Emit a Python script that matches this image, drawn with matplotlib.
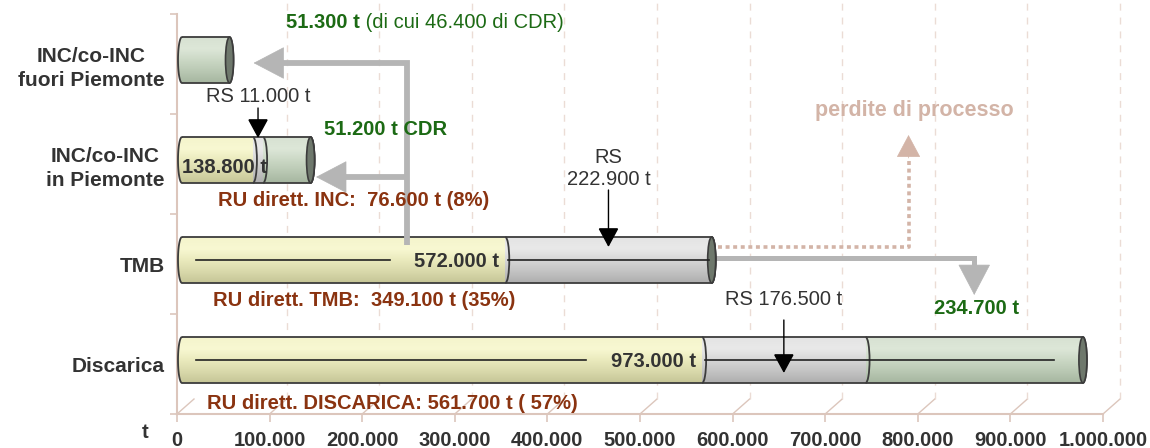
import matplotlib
matplotlib.use("Agg")
import matplotlib.pyplot as plt
import numpy as np
from matplotlib.colors import LinearSegmentedColormap
from matplotlib.patches import Ellipse, PathPatch, Arc
from matplotlib.path import Path

plt.rcParams['font.family'] = ['Liberation Sans', 'DejaVu Sans']

# data (t/anno)
categories = ["Discarica", "TMB", "INC/co-INC\nin Piemonte", "INC/co-INC\nfuori Piemonte"]
ru_diretti = [561700, 349100, 76600, 0]
rs = [176500, 222900, 11000, 0]
cdr = [234700, 0, 51200, 51300]
totals = [973000, 572000, 138800]
ru_pct = [57, 35, 8]
ru_names = ["DISCARICA", "TMB", "INC"]
cdr_fuori = 46400
xticks = np.arange(0, 1000001, 100000)

DARK = "#333333"
GREEN = "#1c6a14"
BROWN = "#8a3310"
PINK = "#d3b4a7"
GRAYARR = "#b5b5b5"
AXC = "#dcc6bc"
FS = 14.5

shades = {
    "ru": ["#c6c697", "#d9d9ab", "#eaeabd", "#f8f8d2", "#f4f4cc"],
    "rs": ["#aeaeae", "#c3c3c3", "#d6d6d6", "#e9e9e9", "#e4e4e4"],
    "cdr": ["#a6b6a0", "#b9c8b3", "#cbd8c5", "#dde7d8", "#d7e1d2"],
}


def fmt(v):
    return f"{v:,}".replace(",", ".")


W, H = 1150, 448
fig = plt.figure(figsize=(W / 100, H / 100), dpi=100)
ax = fig.add_axes([177 / W, 34 / H, 926 / W, 400 / H])

ux = 1000000 / 926   # data units per pixel
uy = 4 / 400
bar_h = 0.46
lift = 0.04          # 3D shift of the cylinders
X0 = 5 * ux          # 3D shift of the cylinders
e = 4 * ux           # half width of the elliptic ends
grad = np.linspace(0, 1, 80).reshape(-1, 1)


def cylinder(yc, parts):
    y0, y1 = yc - bar_h / 2, yc + bar_h / 2
    total = X0 + sum(v for v, k in parts)
    t = np.linspace(np.pi / 2, 3 * np.pi / 2, 30)
    left = np.column_stack([X0 + e * np.cos(t), yc + bar_h / 2 * np.sin(t)])
    t2 = np.linspace(-np.pi / 2, np.pi / 2, 30)
    right = np.column_stack([total + e * np.cos(t2), yc + bar_h / 2 * np.sin(t2)])
    verts = np.vstack([left, right, left[:1]])
    outline = PathPatch(Path(verts), fill=False, edgecolor="#3c3c3c", lw=1.3, zorder=4)
    ax.add_patch(outline)
    x = X0
    for i, (v, k) in enumerate(parts):
        cmap = LinearSegmentedColormap.from_list(k, shades[k])
        x_start = X0 - e if i == 0 else x
        im = ax.imshow(grad, cmap=cmap, extent=(x_start, x + v + e, y0, y1),
                       origin="lower", aspect="auto", zorder=2, interpolation="bilinear")
        im.set_clip_path(outline)
        x += v
        if x < total:
            ax.add_patch(Arc((x, yc), 2 * e, bar_h, theta1=-90, theta2=90,
                             color="#3c3c3c", lw=1.3, zorder=4))
    ax.add_patch(Ellipse((total, yc), 2 * e, bar_h, facecolor="#6e786c",
                         edgecolor="#3c3c3c", lw=1.2, zorder=4))


for i in range(4):
    parts = [(ru_diretti[i], "ru"), (rs[i], "rs"), (cdr[i], "cdr")]
    parts = [p for p in parts if p[0] > 0]
    cylinder(i + lift, parts)

# center lines of the bigger cylinders
for i in (0, 1):
    yc = i + lift
    end = X0 + ru_diretti[i] + rs[i] + cdr[i]
    ax.plot([X0 + 15000, X0 + ru_diretti[i] - 125000], [yc, yc], color="#222222", lw=1.2, zorder=5)
    ax.plot([X0 + ru_diretti[i] + 3000, end - 28000 * (i == 0) - 3000], [yc, yc],
            color="#222222", lw=1.2, zorder=5)
    ax.text(X0 + ru_diretti[i] - 7000, yc - 0.01, fmt(totals[i]) + " t", ha="right", va="center",
            fontsize=FS, fontweight="bold", color=DARK, zorder=6)

ax.text(X0, 2 - 0.03, fmt(totals[2]) + " t", ha="left", va="center",
        fontsize=FS, fontweight="bold", color=DARK, zorder=6)

# RU labels under the bars
ru_lab_x = [32000, 39000, 44000]
for i in range(3):
    sp = " " if i == 0 else "  "
    pc = f"( {ru_pct[i]}%)" if i == 0 else f"({ru_pct[i]}%)"
    ax.text(ru_lab_x[i], i - 0.39 + 0.03 * (i > 0), f"RU dirett. {ru_names[i]}:{sp}{fmt(ru_diretti[i])} t {pc}",
            ha="left", va="center", fontsize=FS, fontweight="bold", color=BROWN, zorder=6)


def arrow(p0, p1, color, lw, hl, hw, z=3):
    ax.annotate("", xy=p1, xytext=p0,
                arrowprops=dict(arrowstyle=f"-|>,head_length={hl},head_width={hw}",
                                color=color, lw=lw, shrinkA=0, shrinkB=0,
                                mutation_scale=1, joinstyle="miter"),
                zorder=z)


# RS arrows (black)
rs_lab_y = [0.65, 1.96, 2.67]
rs_arr = [(0.44, -0.09), (1.74, 1.17), (2.56, 2.26)]
for i in range(3):
    xc = X0 + ru_diretti[i] + rs[i] / 2
    lab = f"RS\n{fmt(rs[i])} t" if i == 1 else f"RS {fmt(rs[i])} t"
    ax.text(xc, rs_lab_y[i], lab, ha="center", va="center", fontsize=FS, color=DARK,
            linespacing=1.2, zorder=6)
    arrow((xc, rs_arr[i][0]), (xc, rs_arr[i][1]), "black", 1.0, 12, 6.5, z=6)

# gray flows from TMB towards incineration
split_x = 248000
y_fuori, y_piem, y_tmb_top = 3.01, 1.87, 1.19
ax.plot([split_x, split_x, 110000], [y_tmb_top, y_fuori, y_fuori], color=GRAYARR, lw=4.2,
        solid_joinstyle="miter", solid_capstyle="butt", zorder=5)
arrow((110000, y_fuori), (X0 + cdr[3] + 26000, y_fuori), GRAYARR, 0.5, 21, 11, z=5)
ax.plot([split_x, 180000], [y_piem, y_piem], color=GRAYARR, lw=4.2, solid_capstyle="butt", zorder=5)
arrow((180000, y_piem), (X0 + totals[2] + 6000, y_piem), GRAYARR, 0.5, 21, 11, z=5)

# gray flow from TMB to landfill
x_land = X0 + ru_diretti[0] + rs[0] + cdr[0] / 2
y_exit = 1.06
ax.plot([X0 + totals[1], x_land], [y_exit, y_exit], color=GRAYARR, lw=3.6,
        solid_capstyle="projecting", zorder=3)
ax.plot([x_land, x_land], [y_exit, 0.95], color=GRAYARR, lw=3.6, solid_capstyle="butt", zorder=3)
arrow((x_land, 0.95), (x_land, 0.69), GRAYARR, 0.5, 21, 11, z=3)
ax.text(x_land + 2000, 0.56, fmt(cdr[0]) + " t", ha="center", va="center",
        fontsize=FS, fontweight="bold", color=GREEN, zorder=6)

# process losses (dotted)
x_loss = 790000
ax.plot([X0 + totals[1] + 7000, x_loss, x_loss], [1.17, 1.17, 2.06], color=PINK, lw=2.6,
        ls=(0, (1.1, 1.0)), zorder=3)
arrow((x_loss, 2.06), (x_loss, 2.29), PINK, 0.5, 15, 8, z=3)
ax.text(x_loss + 6000, 2.54, "perdite di processo", ha="center", va="center",
        fontsize=15.5, fontweight="bold", color=PINK, zorder=6)

# CDR labels
ax.text(X0 + totals[2] + 15000, 2.35, fmt(cdr[2]) + " t CDR", ha="left", va="center",
        fontsize=FS, fontweight="bold", color=GREEN, zorder=6)
t1 = ax.text(118000, 3.42, fmt(cdr[3]) + " t", ha="left", va="center",
             fontsize=FS, fontweight="bold", color=GREEN, zorder=6)
ax.annotate(f" (di cui {fmt(cdr_fuori)} di CDR)", xy=(1, 0.5), xycoords=t1,
            ha="left", va="center", fontsize=FS, color=GREEN, zorder=6)

# 3D floor and back grid
for x in xticks:
    ax.plot([x, x + 17 * ux], [-0.5, -0.5 + 15 * uy], color=AXC, lw=1, zorder=0, clip_on=False)
    if x > 0:
        ax.plot([x + 17 * ux] * 2, [-0.5 + 15 * uy, 3.5 + 13 * uy], color="#ebdcd5", lw=1,
                ls=(0, (5, 5)), zorder=0, clip_on=False)

ax.set_xlim(0, 1000000)
ax.set_ylim(-0.5, 3.5)
for s in ("top", "right"):
    ax.spines[s].set_visible(False)
for s in ("left", "bottom"):
    ax.spines[s].set_color(AXC)
    ax.spines[s].set_linewidth(1.5)

ax.set_xticks(xticks)
ax.set_xticklabels([fmt(v) for v in xticks], fontweight="bold", fontsize=FS, color=DARK)
ax.tick_params(axis="x", length=6, color=AXC, width=1.2, pad=6)
ax.set_yticks(range(4))
ax.set_yticklabels(categories, fontweight="bold", fontsize=15, color=DARK)
for lbl in ax.get_yticklabels():
    lbl.set_multialignment("center")
    lbl.set_linespacing(1.3)
ax.tick_params(axis="y", length=0, pad=9)
ax.set_yticks(np.arange(-0.5, 3.6, 1), minor=True)
ax.tick_params(axis="y", which="minor", length=5, color=AXC, width=1.2)

ax.annotate("t", xy=(0, 0), xycoords="axes fraction", xytext=(-32, -18),
            textcoords="offset pixels", ha="center", va="center",
            fontsize=FS, fontweight="bold", color=DARK)

fig.savefig("out.png", dpi=100)
